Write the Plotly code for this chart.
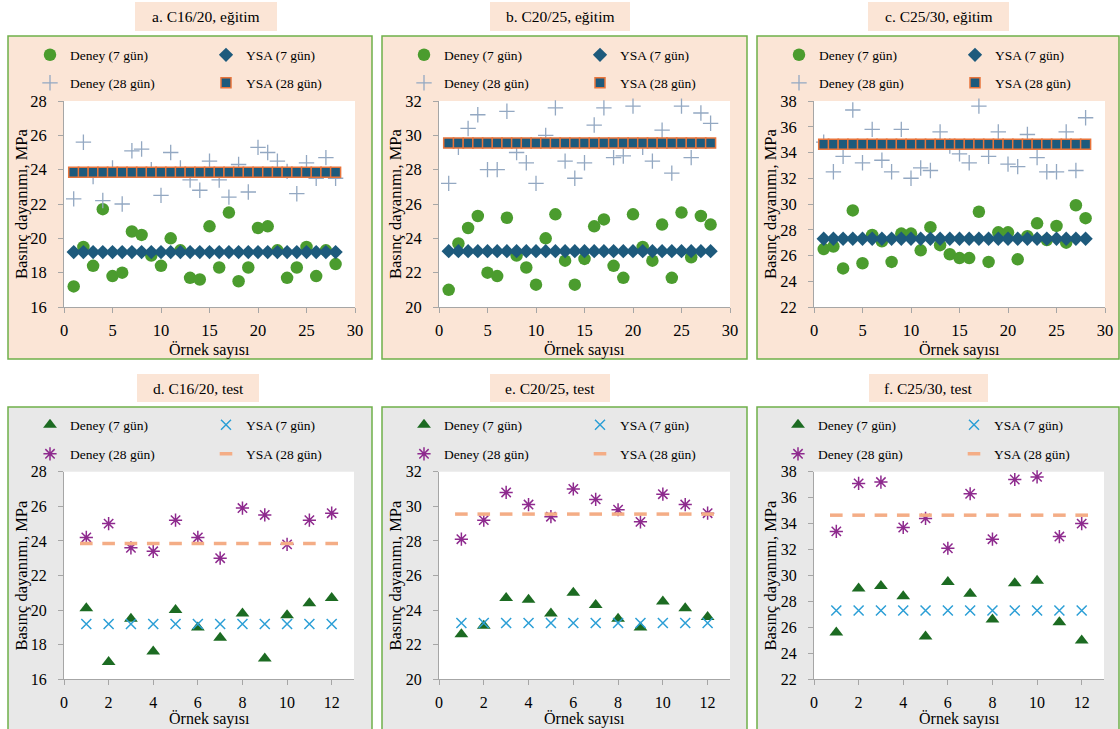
import plotly.graph_objects as go

W, H = 1120, 729
FONT = "Times New Roman, Liberation Serif, DejaVu Serif, serif"

# ---------------- data ----------------
x_train = [1, 2, 3, 4, 5, 6, 7, 8, 9, 10, 11, 12, 13, 14, 15, 16, 17, 18, 19, 20,
           21, 22, 23, 24, 25, 26, 27, 28]
x_test = [1, 2, 3, 4, 5, 6, 7, 8, 9, 10, 11, 12]

# a. C16/20, training
a_deney7 = [17.2, 19.5, 18.4, 21.7, 17.8, 18.0, 20.4, 20.2, 19.0, 18.4, 20.0, 19.3, 17.7, 17.6,
            20.7, 18.3, 21.5, 17.5, 18.3, 20.6, 20.7, 19.3, 17.7, 18.3, 19.5, 17.8, 19.3, 18.5]
a_deney28 = [22.3, 25.6, 23.6, 22.2, 24.1, 22.0, 25.1, 25.2, 24.0, 22.5, 25.0, 24.1, 23.4, 22.8,
             24.5, 23.4, 22.4, 24.3, 22.7, 25.3, 25.0, 24.5, 23.9, 22.6, 24.4, 23.5, 24.7, 23.5]
a_ysa7 = [19.2, 19.2, 19.2, 19.2, 19.2, 19.2, 19.2, 19.2, 19.2, 19.2, 19.2, 19.2, 19.2, 19.2,
          19.2, 19.2, 19.2, 19.2, 19.2, 19.2, 19.2, 19.2, 19.2, 19.2, 19.2, 19.2, 19.2, 19.2]
a_ysa28 = [23.85, 23.85, 23.85, 23.85, 23.85, 23.85, 23.85, 23.85, 23.85, 23.85, 23.85, 23.85,
           23.85, 23.85, 23.85, 23.85, 23.85, 23.85, 23.85, 23.85, 23.85, 23.85, 23.85, 23.85,
           23.85, 23.85, 23.85, 23.85]

# b. C20/25, training
b_deney7 = [21.0, 23.7, 24.6, 25.3, 22.0, 21.8, 25.2, 23.0, 22.3, 21.3, 24.0, 25.4, 22.7, 21.3,
            22.8, 24.7, 25.1, 22.4, 21.7, 25.4, 23.5, 22.7, 24.8, 21.7, 25.5, 22.9, 25.3, 24.8]
b_deney28 = [27.2, 29.3, 30.4, 31.2, 28.0, 28.0, 31.4, 29.0, 28.4, 27.2, 30.0, 31.6, 28.5, 27.5,
             28.4, 30.6, 31.6, 28.7, 28.8, 31.7, 29.3, 28.5, 30.3, 27.8, 31.7, 28.7, 31.3, 30.7]
b_ysa7 = [23.25, 23.25, 23.25, 23.25, 23.25, 23.25, 23.25, 23.25, 23.25, 23.25, 23.25, 23.25,
          23.25, 23.25, 23.25, 23.25, 23.25, 23.25, 23.25, 23.25, 23.25, 23.25, 23.25, 23.25,
          23.25, 23.25, 23.25, 23.25]
b_ysa28 = [29.55, 29.55, 29.55, 29.55, 29.55, 29.55, 29.55, 29.55, 29.55, 29.55, 29.55, 29.55,
           29.55, 29.55, 29.55, 29.55, 29.55, 29.55, 29.55, 29.55, 29.55, 29.55, 29.55, 29.55,
           29.55, 29.55, 29.55, 29.55]

# c. C25/30, training
c_deney7 = [26.5, 26.7, 25.0, 29.5, 25.4, 27.6, 27.1, 25.5, 27.7, 27.7, 26.4, 28.2, 26.8, 26.1,
            25.8, 25.8, 29.4, 25.5, 27.8, 27.8, 25.7, 27.5, 28.5, 27.2, 28.3, 27.0, 29.9, 28.9]
c_deney28 = [34.8, 32.5, 33.7, 37.3, 33.2, 35.8, 33.4, 32.5, 35.8, 32.0, 32.8, 32.6, 35.6, 34.5,
             33.9, 33.2, 37.6, 33.7, 35.6, 33.1, 32.9, 35.4, 33.6, 32.5, 32.5, 35.6, 32.6, 36.7]
c_ysa7 = [27.3, 27.3, 27.3, 27.3, 27.3, 27.3, 27.3, 27.3, 27.3, 27.3, 27.3, 27.3, 27.3, 27.3,
          27.3, 27.3, 27.3, 27.3, 27.3, 27.3, 27.3, 27.3, 27.3, 27.3, 27.3, 27.3, 27.3, 27.3]
c_ysa28 = [34.65, 34.65, 34.65, 34.65, 34.65, 34.65, 34.65, 34.65, 34.65, 34.65, 34.65, 34.65,
           34.65, 34.65, 34.65, 34.65, 34.65, 34.65, 34.65, 34.65, 34.65, 34.65, 34.65, 34.65,
           34.65, 34.65, 34.65, 34.65]

# d. C16/20, test
d_deney7 = [20.1, 17.0, 19.5, 17.6, 20.0, 19.0, 18.4, 19.8, 17.2, 19.7, 20.4, 20.7]
d_deney28 = [24.2, 25.0, 23.6, 23.4, 25.2, 24.2, 23.0, 25.9, 25.5, 23.8, 25.2, 25.6]
d_ysa7 = [19.2, 19.2, 19.2, 19.2, 19.2, 19.2, 19.2, 19.2, 19.2, 19.2, 19.2, 19.2]
d_ysa28 = [23.85, 23.85, 23.85, 23.85, 23.85, 23.85, 23.85, 23.85, 23.85, 23.85, 23.85, 23.85]

# e. C20/25, test
e_deney7 = [22.6, 23.1, 24.7, 24.6, 23.8, 25.0, 24.3, 23.5, 23.0, 24.5, 24.1, 23.6]
e_deney28 = [28.1, 29.2, 30.8, 30.1, 29.4, 31.0, 30.4, 29.8, 29.1, 30.7, 30.1, 29.6]
e_ysa7 = [23.25, 23.25, 23.25, 23.25, 23.25, 23.25, 23.25, 23.25, 23.25, 23.25, 23.25, 23.25]
e_ysa28 = [29.55, 29.55, 29.55, 29.55, 29.55, 29.55, 29.55, 29.55, 29.55, 29.55, 29.55, 29.55]

# f. C25/30, test
f_deney7 = [25.6, 29.0, 29.2, 28.4, 25.3, 29.5, 28.6, 26.6, 29.4, 29.6, 26.4, 25.0]
f_deney28 = [33.4, 37.1, 37.2, 33.7, 34.4, 32.1, 36.3, 32.8, 37.4, 37.6, 33.0, 34.0]
f_ysa7 = [27.3, 27.3, 27.3, 27.3, 27.3, 27.3, 27.3, 27.3, 27.3, 27.3, 27.3, 27.3]
f_ysa28 = [34.65, 34.65, 34.65, 34.65, 34.65, 34.65, 34.65, 34.65, 34.65, 34.65, 34.65, 34.65]

titles = ["a. C16/20, eğitim", "b. C20/25, eğitim", "c. C25/30, eğitim",
          "d. C16/20, test", "e. C20/25, test", "f. C25/30, test"]
series_names = ["Deney (7 gün)", "YSA (7 gün)", "Deney (28 gün)", "YSA (28 gün)"]
y_ranges = [[16, 28], [20, 32], [22, 38], [16, 28], [20, 32], [22, 38]]
x_title = "Örnek sayısı"
y_title = "Basınç dayanımı, MPa"

panel_data = [
    (x_train, a_deney7, a_ysa7, a_deney28, a_ysa28),
    (x_train, b_deney7, b_ysa7, b_deney28, b_ysa28),
    (x_train, c_deney7, c_ysa7, c_deney28, c_ysa28),
    (x_test, d_deney7, d_ysa7, d_deney28, d_ysa28),
    (x_test, e_deney7, e_ysa7, e_deney28, e_ysa28),
    (x_test, f_deney7, f_ysa7, f_deney28, f_ysa28),
]

# ---------------- styles ----------------
train_markers = [
    dict(symbol="circle", size=12.5, color="#4b9c2e"),
    dict(symbol="diamond", size=11, color="#1d5a7c"),
    dict(symbol="cross-thin", size=11, color="#93a8c2", line=dict(color="#93a8c2", width=1.3)),
    dict(symbol="square", size=10, color="#1d5a7c", line=dict(color="#e8743b", width=1.5)),
]
test_markers = [
    dict(symbol="triangle-up", size=12, color="#1c6b22"),
    dict(symbol="x-thin", size=10, color="#2c9fd6", line=dict(color="#2c9fd6", width=1.5)),
    dict(symbol="asterisk-open", size=11, color="#8e2a8e", line=dict(color="#8e2a8e", width=1.5)),
    dict(symbol="line-ew-open", size=9, color="#f4ad86", line=dict(color="#f4ad86", width=3.5)),
]

# pixel geometry
plot_x_px = [(64, 355), (439, 730), (814, 1105), (64, 354), (439, 730), (814, 1104)]
plot_y_px = [(101, 307)] * 3 + [(471.7, 679.3)] * 3
frame_x_px = [(8, 372), (382, 747), (757, 1119)] * 2
frame_y_px = [(36, 359)] * 3 + [(407, 735)] * 3
tbox_x_px = [(135, 277), (490, 630), (868, 1009), (137, 259), (490, 610), (869, 988)]
tbox_y_px = [(2, 31)] * 3 + [(374, 402)] * 3
leg_col1 = [48, 48, 48, 48, 48, 47]   # symbol offset from frame left
leg_rows = [(55, 83)] * 3 + [(425, 454)] * 3
xtitle_gap = [43, 43, 43, 40, 40, 40]
tick_size = [16.5, 16.5, 16.5, 16, 16, 16]
xtick_standoff = [3, 3, 3, 3, 3, 3]


def px_x(v):
    return v / W


def px_y(v):
    return 1 - v / H


fig = go.Figure()
layout = dict(
    width=W, height=H,
    margin=dict(l=0, r=0, t=0, b=0, autoexpand=False),
    paper_bgcolor="white",
    plot_bgcolor="rgba(0,0,0,0)",
    font=dict(family=FONT, color="black"),
    showlegend=True,
)
shapes = []
annotations = []

for i in range(6):
    sfx = "" if i == 0 else str(i + 1)
    xa, ya = "x" + sfx, "y" + sfx
    xs, dn7, ys7, dn28, ys28 = panel_data[i]
    markers = train_markers if i < 3 else test_markers
    frame_bg = "#fbe5d6" if i < 3 else "#e8e8e8"

    # frame
    fx0, fx1 = frame_x_px[i]
    fy0, fy1 = frame_y_px[i]
    shapes.append(dict(type="rect", xref="paper", yref="paper", layer="below",
                       x0=px_x(fx0), x1=px_x(fx1), y0=px_y(fy1), y1=px_y(fy0),
                       fillcolor=frame_bg, line=dict(color="#6fb04a", width=1.5)))
    # plot area
    shapes.append(dict(type="rect", xref=xa + " domain", yref=ya + " domain", layer="below",
                       x0=0, x1=1, y0=0, y1=1, fillcolor="white", line=dict(width=0)))
    # title box
    tx0, tx1 = tbox_x_px[i]
    ty0, ty1 = tbox_y_px[i]
    shapes.append(dict(type="rect", xref="paper", yref="paper", layer="below",
                       x0=px_x(tx0), x1=px_x(tx1), y0=px_y(ty1), y1=px_y(ty0),
                       fillcolor="#fbe5d6", line=dict(width=0)))
    annotations.append(dict(text=titles[i], xref="paper", yref="paper",
                            x=px_x((tx0 + tx1) / 2), y=px_y((ty0 + ty1) / 2),
                            xanchor="center", yanchor="middle", showarrow=False,
                            font=dict(size=15.5, family=FONT, color="black")))

    # axes
    px0, px1 = plot_x_px[i]
    py0, py1 = plot_y_px[i]
    xmax = 30 if i < 3 else 13
    axis_common = dict(showline=True, linecolor="#a6a6a6", linewidth=1, ticks="outside",
                       ticklen=5, tickcolor="#a6a6a6", showgrid=False, zeroline=False,
                       automargin=False,
                       tickfont=dict(size=tick_size[i], family=FONT, color="black"))
    layout["xaxis" + sfx] = dict(domain=[px_x(px0), px_x(px1)], anchor=ya,
                                 range=[0, xmax], dtick=5 if i < 3 else 2, tick0=0,
                                 ticklabelstandoff=xtick_standoff[i], **axis_common)
    layout["yaxis" + sfx] = dict(domain=[px_y(py1), px_y(py0)], anchor=xa,
                                 range=y_ranges[i], dtick=2, tick0=0, ticklabelstandoff=8,
                                 **axis_common)
    # axis titles
    annotations.append(dict(text=x_title, xref="paper", yref="paper",
                            x=px_x((px0 + px1) / 2), y=px_y(py1 + xtitle_gap[i]),
                            xanchor="center", yanchor="middle", showarrow=False,
                            font=dict(size=16, family=FONT, color="black")))
    annotations.append(dict(text=y_title, xref="paper", yref="paper", textangle=-90,
                            x=px_x(fx0 + 13), y=px_y((py0 + py1) / 2),
                            xanchor="center", yanchor="middle", showarrow=False,
                            font=dict(size=16.5, family=FONT, color="black")))

    # legends (two rows per panel)
    lg1 = "legend" if i == 0 else "legend" + str(2 * i + 1)
    lg2 = "legend" + str(2 * i + 2)
    r1, r2 = leg_rows[i]
    for lg, ry in ((lg1, r1), (lg2, r2)):
        layout[lg] = dict(orientation="h", x=px_x(fx0 + leg_col1[i] - 26), y=px_y(ry),
                          xanchor="left", yanchor="middle", bgcolor="rgba(0,0,0,0)",
                          entrywidth=131, itemwidth=30, tracegroupgap=0,
                          font=dict(size=13.5, family=FONT, color="black"))

    ser = [dn7, ys7, dn28, ys28]
    for k in range(4):
        fig.add_trace(go.Scatter(
            x=xs, y=ser[k], mode="markers", name=series_names[k],
            marker=markers[k], xaxis=xa, yaxis=ya,
            legend=lg1 if k < 2 else lg2, cliponaxis=False,
        ))

layout["shapes"] = shapes
layout["annotations"] = annotations
fig.update_layout(**layout)
fig.write_html(
    "out.html",
    config={"displayModeBar": False},
    post_script="document.body.style.margin='0';document.body.style.overflow='hidden';",
)
